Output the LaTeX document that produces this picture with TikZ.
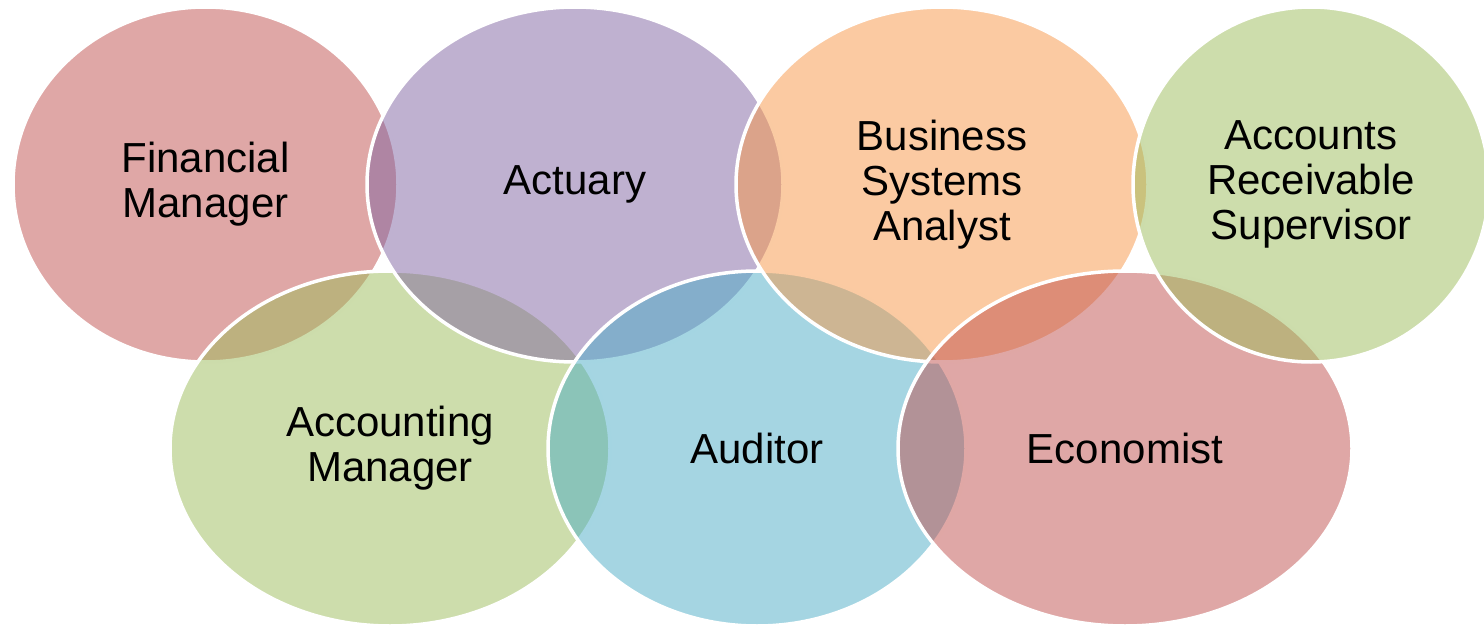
\documentclass[tikz,border=0pt]{standalone}
\usepackage{fontspec}
\setmainfont{Liberation Sans}
\usetikzlibrary{shapes.geometric}
\definecolor{accred}{HTML}{C0504D}
\definecolor{accgreen}{HTML}{9BBB59}
\definecolor{accpurple}{HTML}{8064A2}
\definecolor{accaqua}{HTML}{4BACC6}
\definecolor{accorange}{HTML}{F79646}
\newcommand{\lblfont}{\fontsize{42}{45}\selectfont}
\tikzset{
  ring/.style={ellipse, draw=white, line width=3.5pt, fill opacity=0.5,
    text opacity=1, inner sep=0pt, outer sep=0pt, align=center,
    font=\lblfont, minimum height=355pt}
}
\begin{document}
\begin{tikzpicture}[x=1pt,y=-1pt]
\useasboundingbox (0,0) rectangle (1484,626);
\clip (0,0) rectangle (1484,626);
\node[ring, fill=accred, minimum width=385pt] (fin) at (205.5,184.5) {Financial\\Manager};
\node[ring, fill=accgreen, minimum width=440pt] (acm) at (390,448.5) {Accounting\\Manager};
\node[ring, fill=accpurple, minimum width=416pt] (act) at (575,184.5) {Actuary};
\node[ring, fill=accaqua, minimum width=418pt] (aud) at (757,448.5) {Auditor};
\node[ring, fill=accorange, minimum width=412pt] (bsa) at (942,184.5) {Business\\Systems\\Analyst};
\node[ring, fill=accred, minimum width=454pt] (eco) at (1125,448.5) {Economist};
\node[ring, fill=accgreen, minimum width=356pt] (ars) at (1311,184.5) {Accounts\\Receivable\\Supervisor};
\end{tikzpicture}
\end{document}
